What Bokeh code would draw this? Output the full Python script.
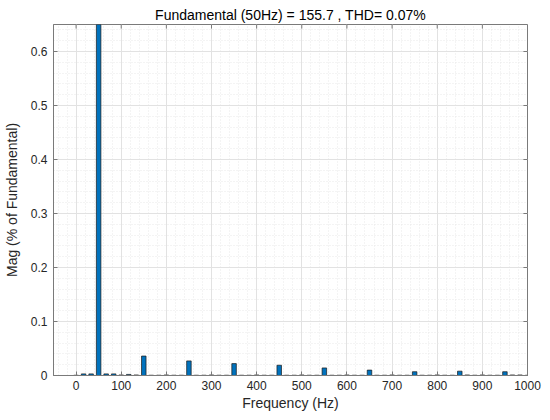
from bokeh.plotting import figure
from bokeh.models import Range1d, FixedTicker, ColumnDataSource
from bokeh.embed import file_html
from bokeh.resources import INLINE

# ---- data ----
freq_hz = [0, 16.67, 33.33, 50, 66.67, 83.33, 100, 116.67, 133.33, 150,
           166.67, 183.33, 200, 216.67, 233.33, 250, 266.67, 283.33, 300, 316.67,
           333.33, 350, 366.67, 383.33, 400, 416.67, 433.33, 450, 466.67, 483.33,
           500, 516.67, 533.33, 550, 566.67, 583.33, 600, 616.67, 633.33, 650,
           666.67, 683.33, 700, 716.67, 733.33, 750, 766.67, 783.33, 800, 816.67,
           833.33, 850, 866.67, 883.33, 900, 916.67, 933.33, 950, 966.67, 983.33, 1000]
mag_pct = [0.0005, 0.003, 0.003, 100.0, 0.003, 0.003, 0.001, 0.002, 0.001, 0.036,
           0.0005, 0.0005, 0.001, 0.0005, 0.0005, 0.027, 0.0005, 0.0005, 0.001, 0.0005,
           0.0005, 0.022, 0.0005, 0.0005, 0.001, 0.0005, 0.0005, 0.019, 0.0005, 0.0005,
           0.001, 0.0005, 0.0005, 0.014, 0.0005, 0.0005, 0.001, 0.0005, 0.0005, 0.010,
           0.0005, 0.0005, 0.001, 0.0005, 0.0005, 0.007, 0.0005, 0.0005, 0.001, 0.0005,
           0.0005, 0.008, 0.001, 0.0005, 0.001, 0.0005, 0.0005, 0.007, 0.001, 0.001, 0.0005]

x_ticks = [0, 100, 200, 300, 400, 500, 600, 700, 800, 900, 1000]
x_minor = [-40, -20, 20, 40, 60, 80, 120, 140, 160, 180, 220, 240, 260, 280,
           320, 340, 360, 380, 420, 440, 460, 480, 520, 540, 560, 580,
           620, 640, 660, 680, 720, 740, 760, 780, 820, 840, 860, 880,
           920, 940, 960, 980]
y_ticks = [0, 0.1, 0.2, 0.3, 0.4, 0.5, 0.6]
y_minor = [0.02, 0.04, 0.06, 0.08, 0.12, 0.14, 0.16, 0.18, 0.22, 0.24, 0.26, 0.28,
           0.32, 0.34, 0.36, 0.38, 0.42, 0.44, 0.46, 0.48, 0.52, 0.54, 0.56, 0.58,
           0.62, 0.64]
title_text = "Fundamental (50Hz) = 155.7 , THD= 0.07%"
x_label = "Frequency (Hz)"
y_label = "Mag (% of Fundamental)"

X_MIN, X_MAX = -50, 1000
Y_MIN, Y_MAX = 0, 0.65

FONT = "Liberation Sans"
TXT = "#262626"
AX = "#7a7a7a"

p = figure(width=542, height=413,
           output_backend="svg", toolbar_location=None,
           x_range=Range1d(X_MIN, X_MAX), y_range=Range1d(Y_MIN, Y_MAX),
           min_border_left=52, min_border_right=15,
           min_border_top=24, min_border_bottom=37)

p.background_fill_color = "white"
p.border_fill_color = "white"
p.outline_line_color = AX
p.outline_line_width = 1

# title
p.title.text = title_text
p.title.align = "center"
p.title.text_font = FONT
p.title.text_font_size = "14px"
p.title.text_font_style = "normal"
p.title.text_color = "black"
p.title.standoff = 4

# grids
p.xgrid.ticker = FixedTicker(ticks=x_ticks, minor_ticks=x_minor)
p.ygrid.ticker = FixedTicker(ticks=y_ticks, minor_ticks=y_minor)
for g in (p.xgrid, p.ygrid):
    g.grid_line_color = "#e2e2e2"
    g.grid_line_width = 1
    g.minor_grid_line_color = "#e8e8e8"
    g.minor_grid_line_dash = "1 2"
    g.minor_grid_line_width = 1

# axes
p.xaxis.ticker = FixedTicker(ticks=x_ticks, minor_ticks=x_minor)
p.yaxis.ticker = FixedTicker(ticks=y_ticks, minor_ticks=y_minor)
p.xaxis.axis_label = x_label
p.yaxis.axis_label = y_label
for ax in (p.xaxis, p.yaxis):
    ax.axis_line_color = AX
    ax.major_tick_line_color = AX
    ax.major_tick_in = 4
    ax.major_tick_out = 0
    ax.minor_tick_in = 0
    ax.minor_tick_out = 0
    ax.major_label_text_font = FONT
    ax.major_label_text_font_size = "12px"
    ax.major_label_text_color = TXT
    ax.axis_label_text_font = FONT
    ax.axis_label_text_font_size = "14px"
    ax.axis_label_text_font_style = "normal"
    ax.axis_label_text_color = TXT
p.xaxis.major_label_standoff = 5
p.xaxis.axis_label_standoff = 2
p.yaxis.major_label_standoff = 6
p.yaxis.axis_label_standoff = 8

# box ticks on the top and right edges (inward, like the reference)
tick_len_x = 0.0075   # data units along y for top ticks
tick_len_y = 9        # data units along x for right ticks
p.segment(x0=x_ticks, y0=[Y_MAX] * len(x_ticks), x1=x_ticks,
          y1=[Y_MAX - tick_len_x] * len(x_ticks), line_color=AX, line_width=1)
p.segment(x0=[X_MAX] * len(y_ticks), y0=y_ticks, x1=[X_MAX - tick_len_y] * len(y_ticks),
          y1=y_ticks, line_color=AX, line_width=1)

src = ColumnDataSource(data=dict(freq=freq_hz, mag=mag_pct))
p.vbar(x="freq", top="mag", bottom=0, width=10, source=src,
       fill_color="#0072BD", line_color="#1a1a1a", line_width=0.7)

open("out.html", "w").write(file_html(p, INLINE))
